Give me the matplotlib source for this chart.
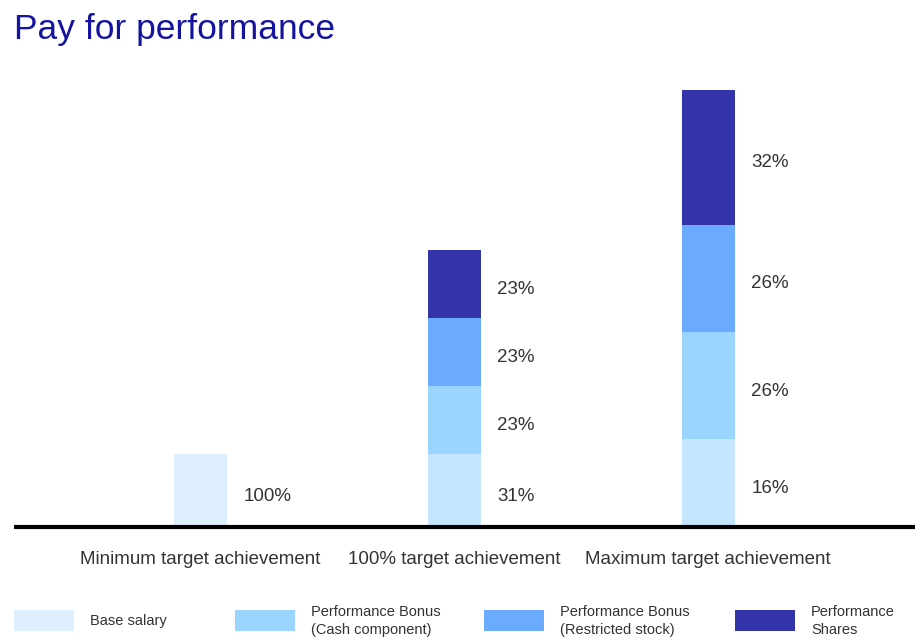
import numpy as np
import matplotlib.pyplot as plt
from matplotlib.patches import Rectangle

# chart data (bar heights, base salary = 100)
categories = ['Minimum target achievement', '100% target achievement', 'Maximum target achievement']
series_names = ['Base salary', 'Performance Bonus\n(Cash component)',
                'Performance Bonus\n(Restricted stock)', 'Performance\nShares']
base_salary = [100, 100, 120]
bonus_cash = [0, 93, 147]
bonus_stock = [0, 93, 147]
perf_shares = [0, 93, 185]
share_labels = [['100%', '', '', ''],
                ['31%', '23%', '23%', '23%'],
                ['16%', '26%', '26%', '32%']]

colors = ['#C6E6FF', '#99D5FF', '#6AAAFF', '#3333AA']
base_min_color = '#DDEEFF'
text_color = '#333333'

W, H = 915, 638
fig = plt.figure(figsize=(W / 100, H / 100), dpi=100)
plt.rcParams['font.family'] = ['Liberation Sans', 'DejaVu Sans']

# axes placed in pixel terms: baseline at y=527, left 14, right 915
ax_left, ax_right, ax_top, ax_base = 14, 915, 60, 527
ax = fig.add_axes([ax_left / W, (H - ax_base) / H, (ax_right - ax_left) / W, (ax_base - ax_top) / H])

px_per_unit = 0.73
ax.set_ylim(0, (ax_base - ax_top) / px_per_unit)
spacing = 254
ax.set_xlim(-(200 - ax_left) / spacing, (ax_right - 200) / spacing)
width = 53 / spacing

x = np.arange(len(categories))
stack = [base_salary, bonus_cash, bonus_stock, perf_shares]
bottom = np.zeros(len(categories))
for i, vals in enumerate(stack):
    vals = np.array(vals, dtype=float)
    col = [colors[i]] * len(categories)
    if i == 0:
        col[0] = base_min_color
    ax.bar(x, vals, width, bottom=bottom, color=col, linewidth=0)
    for j in range(len(categories)):
        lab = share_labels[j][i]
        if lab:
            ax.annotate(lab, (x[j] + width / 2, bottom[j] + vals[j] / 2),
                        xytext=(12, -4), textcoords='offset points',
                        va='center', ha='left', fontsize=13.5, color=text_color)
    bottom += vals

for s in ['top', 'right', 'left']:
    ax.spines[s].set_visible(False)
ax.spines['bottom'].set_linewidth(3)
ax.spines['bottom'].set_color('black')
ax.spines['bottom'].set_capstyle('butt')
ax.set_yticks([])
ax.set_xticks(x)
ax.set_xticklabels(categories, fontsize=13.5, color=text_color)
ax.tick_params(axis='x', length=0, pad=17)

fig.text(14 / W, 1 - 30 / H, 'Pay for performance', fontsize=25.5, color='#1414A0',
         va='center', ha='left')

# legend drawn by hand
leg_x = [14, 235, 484, 735]
leg_colors = [base_min_color, colors[1], colors[2], colors[3]]
for lx, lc, name in zip(leg_x, leg_colors, series_names):
    fig.add_artist(Rectangle((lx / W, 1 - 631 / H), 60 / W, 21 / H,
                             transform=fig.transFigure, color=lc, linewidth=0))
    fig.text((lx + 76) / W, 1 - 621 / H, name, fontsize=10.5, color=text_color,
             va='center', ha='left', linespacing=1.35)

plt.savefig('out.png', dpi=100)
